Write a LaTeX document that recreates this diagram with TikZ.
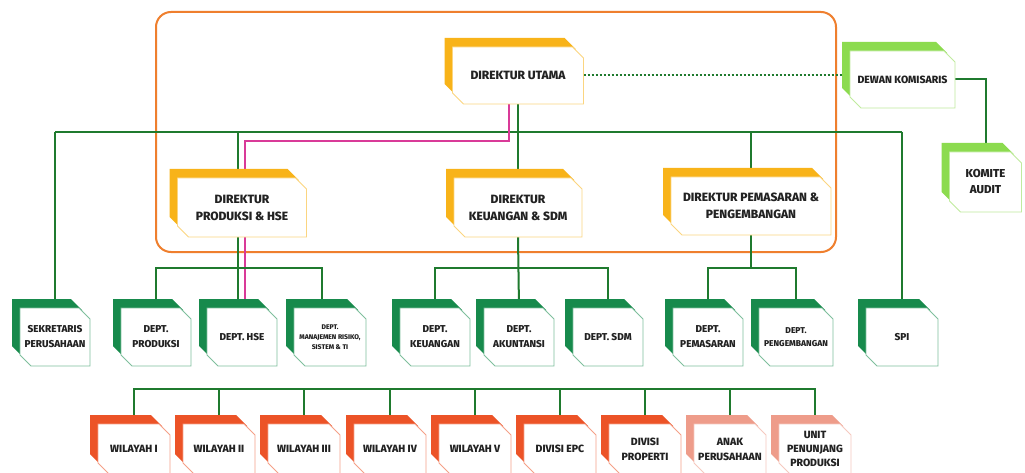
\documentclass[tikz,border=0pt]{standalone}
\usepackage{fontspec}
\setmainfont{Fira Sans}[BoldFont={Fira Sans ExtraBold}]
\usetikzlibrary{calc}
\pgfdeclarelayer{bg}
\pgfsetlayers{bg,main}
\definecolor{lnc}{HTML}{1F7A2E}
\definecolor{dgr}{HTML}{178A4C}
\definecolor{yel}{HTML}{F8B319}
\definecolor{lgr}{HTML}{8CDB4F}
\definecolor{org}{HTML}{EF7F2E}
\definecolor{wred}{HTML}{EC5327}
\definecolor{sal}{HTML}{EE9C8A}
\definecolor{mag}{HTML}{D93A98}
\definecolor{txt}{HTML}{222222}
\tikzset{
  link/.style={draw=lnc, line width=2pt},
  hselink/.style={draw=mag, line width=2pt},
  dotlink/.style={draw=lnc, line width=2pt, dotted},
  frame/.style={draw=org, line width=2pt, rounded corners=15pt},
}
\newcommand\fsz[2]{\bfseries\fontsize{#1}{#2}\selectfont}
% name, cx, cy, w, h, colour, font, text
\newcommand\obox[8]{%
  \pgfmathsetmacro\oL{#2-#4/2}\pgfmathsetmacro\oR{#2+#4/2}%
  \pgfmathsetmacro\oT{#3-#5/2}\pgfmathsetmacro\oB{#3+#5/2}%
  \fill[#6] ({\oL-8},{\oT-9}) -- ({\oR-19},{\oT-9}) -- ({\oR-8},{\oT+2}) -- ({\oR-8},{\oB-9})
     -- ({\oL+3},{\oB-9}) -- ({\oL-8},{\oB-20}) -- cycle;
  \filldraw[fill=white, draw=#6!55, line width=0.8pt] (\oL,\oT) -- ({\oR-11},\oT) -- (\oR,{\oT+11}) -- (\oR,\oB)
     -- ({\oL+11},\oB) -- (\oL,{\oB-11}) -- cycle;
  \node[font=#7, align=center, minimum width=#4pt, minimum height=#5pt, inner sep=0pt, text=txt] (#1) at (#2,#3) {#8};
}
\begin{document}
\begin{tikzpicture}[x=1pt,y=-1pt]
\useasboundingbox (0,0) rectangle (1025,473);
\begin{pgfonlayer}{bg}
\fill[white] (0,0) rectangle (1025,473);
\end{pgfonlayer}
% top
\obox{du}{518}{75.5}{131}{57}{yel}{\fsz{12}{14}}{DIREKTUR UTAMA}
\obox{dkom}{902.5}{79.5}{105}{57}{lgr}{\fsz{10.5}{13}}{DEWAN KOMISARIS}
\obox{ka}{985.5}{182}{72}{60}{lgr}{\fsz{11.5}{16}}{KOMITE\\AUDIT}
% directors
\obox{dp}{242}{207.5}{129}{59}{yel}{\fsz{12}{17}}{DIREKTUR\\PRODUKSI \& HSE}
\obox{dk}{518}{207.5}{128}{59}{yel}{\fsz{12}{17}}{DIREKTUR\\KEUANGAN \& SDM}
\obox{dpm}{751}{206}{160}{58}{yel}{\fsz{12}{17}}{DIREKTUR PEMASARAN \&\\PENGEMBANGAN}
% departments
\obox{sek}{55}{337}{70}{58}{dgr}{\fsz{10}{15}}{SEKRETARIS\\PERUSAHAAN}
\obox{dprod}{156}{337}{70}{58}{dgr}{\fsz{10}{15}}{DEPT.\\PRODUKSI}
\obox{dhse}{242}{337}{70}{58}{dgr}{\fsz{10}{15}}{DEPT. HSE}
\obox{dmr}{330}{337}{72}{58}{dgr}{\fsz{6.8}{10}}{DEPT.\\MANAJEMEN RISIKO,\\SISTEM \& TI}
\obox{dkeu}{435}{337}{70}{58}{dgr}{\fsz{10}{15}}{DEPT.\\KEUANGAN}
\obox{dak}{519}{337}{70}{58}{dgr}{\fsz{10}{15}}{DEPT.\\AKUNTANSI}
\obox{dsdm}{608}{337}{70}{58}{dgr}{\fsz{10}{15}}{DEPT. SDM}
\obox{dpem}{708}{337}{70}{58}{dgr}{\fsz{10}{15}}{DEPT.\\PEMASARAN}
\obox{dpeng}{796}{337}{74}{58}{dgr}{\fsz{8.5}{13}}{DEPT.\\PENGEMBANGAN}
\obox{spi}{902}{337}{72}{58}{dgr}{\fsz{10}{15}}{SPI}
% units
\obox{w1}{134}{449}{72}{50}{wred}{\fsz{10.5}{15}}{WILAYAH I}
\obox{w2}{219}{449}{72}{50}{wred}{\fsz{10.5}{15}}{WILAYAH II}
\obox{w3}{304}{449}{72}{50}{wred}{\fsz{10.5}{15}}{WILAYAH III}
\obox{w4}{390}{449}{72}{50}{wred}{\fsz{10.5}{15}}{WILAYAH IV}
\obox{w5}{475}{449}{72}{50}{wred}{\fsz{10.5}{15}}{WILAYAH V}
\obox{w6}{560}{449}{72}{50}{wred}{\fsz{10.5}{15}}{DIVISI EPC}
\obox{w7}{645}{449}{72}{50}{wred}{\fsz{10.5}{15}}{DIVISI\\PROPERTI}
\obox{w8}{730}{449}{72}{50}{sal}{\fsz{10.5}{15}}{ANAK\\PERUSAHAAN}
\obox{w9}{815}{449}{72}{50}{sal}{\fsz{10.5}{14}}{UNIT\\PENUNJANG\\PRODUKSI}
\coordinate (top) at (0,132);
\coordinate (mid) at (0,268);
\coordinate (low) at (0,389);
\coordinate (hse) at (0,141);
\begin{pgfonlayer}{bg}
\draw[frame] (156,12) rectangle (836,252);
\draw[dotlink] (du.east) -- (du.east -| dkom.west);
\draw[link] (dkom.east) -| (ka.north);
\draw[link] (du.south) -- (dk.north);
\draw[link] (sek.north |- top) -- (spi.north |- top);
\draw[link] (sek.north |- top) -- (sek.north);
\draw[link] (spi.north |- top) -- (spi.north);
\draw[link] ([xshift=-4pt]dp.north |- top) -- ([xshift=-4pt]dp.north);
\draw[link] (dpm.north |- top) -- (dpm.north);
\draw[hselink] ([xshift=-9pt]du.south) |- ([xshift=3pt]dp.north |- hse) -- ([xshift=3pt]dp.north);
\draw[hselink] ([xshift=3pt]dp.south) -- ([xshift=3pt]dhse.north);
\draw[link] ([xshift=-4pt]dp.south) -- ([xshift=-4pt]dhse.north);
\draw[link] (dprod.north) |- ([xshift=-8pt]dmr.north |- mid) -- ([xshift=-8pt]dmr.north);
\draw[link] (dk.south) -- (dak.north);
\draw[link] (dkeu.north) |- (dsdm.north |- mid) -- (dsdm.north);
\draw[link] (dpm.south) -- (dpm.south |- mid);
\draw[link] (dpem.north) |- (dpeng.north |- mid) -- (dpeng.north);
\draw[link] (w1.north) |- (w9.north |- low) -- (w9.north);
\foreach \n in {w2,w3,w4,w5,w6,w7,w8} \draw[link] (\n.north |- low) -- (\n.north);
\end{pgfonlayer}
\end{tikzpicture}
\end{document}
